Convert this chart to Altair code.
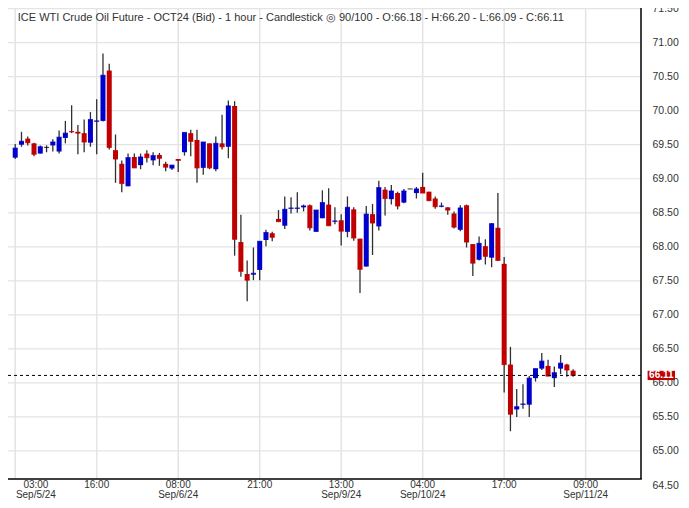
import altair as alt
import pandas as pd

# ---------------- data ----------------
bar_index = list(range(90))
opens = [69.31, 69.50, 69.59, 69.52, 69.37, 69.46, 69.49, 69.40, 69.60, 69.70,
         69.69, 69.67, 69.53, 69.84, 69.85, 70.59, 69.42, 69.22, 68.89, 69.32,
         69.20, 69.37, 69.27, 69.35, 69.22, 69.15, 69.29, 69.39, 69.67, 69.57,
         69.16, 69.52, 69.14, 69.52, 69.47, 70.07, 68.07, 67.60, 67.59, 67.66,
         68.10, 68.20, 68.41, 68.31, 68.56, 68.56, 68.58, 68.61, 68.22, 68.42,
         68.62, 68.37, 68.39, 68.22, 68.55, 68.12, 67.71, 68.48, 68.30, 68.84,
         68.70, 68.79, 68.65, 68.85, 68.79, 68.88, 68.81, 68.71, 68.59, 68.58,
         68.49, 68.25, 68.61, 68.04, 67.81, 68.01, 67.84, 68.28, 67.75, 66.27,
         65.61, 65.68, 65.68, 66.07, 66.21, 66.25, 66.07, 66.21, 66.27, 66.18]
highs = [69.51, 69.69, 69.62, 69.53, 69.49, 69.49, 69.58, 69.71, 69.85, 70.08,
         69.79, 69.87, 69.98, 70.17, 70.84, 70.69, 69.65, 69.27, 69.37, 69.37,
         69.37, 69.42, 69.39, 69.38, 69.25, 69.20, 69.29, 69.68, 69.72, 69.72,
         69.54, 69.52, 69.62, 69.94, 70.15, 70.14, 68.47, 67.80, 67.99, 68.08,
         68.25, 68.22, 68.54, 68.74, 68.73, 68.80, 68.62, 68.62, 68.54, 68.83,
         68.86, 68.58, 68.48, 68.74, 68.58, 68.12, 68.60, 68.63, 68.97, 68.88,
         68.91, 68.81, 68.85, 68.85, 68.88, 69.09, 68.81, 68.74, 68.65, 68.58,
         68.52, 68.61, 68.62, 68.04, 68.15, 68.11, 68.35, 68.79, 67.85, 66.53,
         65.91, 65.98, 66.10, 66.21, 66.44, 66.34, 66.24, 66.41, 66.28, 66.20]
lows = [69.29, 69.47, 69.49, 69.33, 69.37, 69.39, 69.40, 69.37, 69.52, 69.67,
        69.36, 69.39, 69.47, 69.36, 69.84, 69.43, 68.94, 68.80, 68.89, 69.16,
        69.14, 69.24, 69.20, 69.19, 69.11, 69.13, 69.10, 69.34, 69.33, 68.94,
        69.06, 69.14, 69.11, 69.43, 69.30, 67.87, 67.56, 67.20, 67.51, 67.51,
        68.01, 68.08, 68.37, 68.26, 68.49, 68.50, 68.52, 68.24, 68.22, 68.42,
        68.31, 68.33, 68.02, 68.14, 68.09, 67.32, 67.71, 67.88, 68.24, 68.46,
        68.62, 68.55, 68.64, 68.85, 68.71, 68.79, 68.67, 68.56, 68.58, 68.47,
        68.27, 68.23, 67.99, 67.57, 67.80, 67.74, 67.70, 67.79, 65.86, 65.29,
        65.50, 65.62, 65.50, 66.02, 66.19, 66.10, 65.94, 66.13, 66.09, 66.09]
closes = [69.45, 69.55, 69.53, 69.36, 69.47, 69.46, 69.54, 69.61, 69.67, 69.69,
          69.67, 69.54, 69.87, 69.85, 70.52, 69.46, 69.29, 68.93, 69.31, 69.16,
          69.32, 69.31, 69.34, 69.30, 69.17, 69.20, 69.27, 69.68, 69.55, 69.16,
          69.54, 69.16, 69.52, 69.47, 70.07, 68.11, 67.64, 67.51, 67.61, 68.08,
          68.21, 68.14, 68.37, 68.55, 68.57, 68.57, 68.60, 68.28, 68.54, 68.65,
          68.31, 68.38, 68.23, 68.58, 68.13, 67.67, 68.48, 68.35, 68.87, 68.71,
          68.82, 68.60, 68.82, 68.85, 68.85, 68.79, 68.68, 68.59, 68.60, 68.54,
          68.29, 68.57, 68.07, 67.76, 68.05, 67.86, 68.34, 67.80, 66.27, 65.54,
          65.65, 65.69, 66.07, 66.21, 66.32, 66.10, 66.15, 66.29, 66.19, 66.11]

x_ticks = [0, 13, 26, 39, 52, 65, 78, 91]
x_time = ["03:00", "16:00", "08:00", "21:00", "13:00", "04:00", "17:00", "09:00"]
x_date = ["Sep/5/24", "", "Sep/6/24", "", "Sep/9/24", "Sep/10/24", "", "Sep/11/24"]
y_ticks = [64.5, 65.0, 65.5, 66.0, 66.5, 67.0, 67.5, 68.0, 68.5, 69.0, 69.5, 70.0, 70.5, 71.0, 71.5]

title_main = "ICE WTI Crude Oil Future - OCT24 (Bid) - 1 hour - Candlestick"
bars_shown = "90/100"

# ---------------- layout constants ----------------
W, H = 633, 477
X_DOMAIN = [-0.353, 99.03]
Y_TOP, Y_FLOOR, Y_BOTTOM = 71.509, 64.59, 64.5
FIRST_LABEL_MIN = 3.3
FONT = "Liberation Sans"
BLUE, RED, FLAT = "#0000cc", "#c00000", "#000000"
GRID = "#e4e4e4"
TXT = "#333333"

df = pd.DataFrame({"i": bar_index, "open": opens, "high": highs,
                   "low": lows, "close": closes})
df["dir"] = ["up" if c > o else ("down" if c < o else "flat") for o, c in zip(opens, closes)]

last_o, last_h, last_l, last_c = opens[-1], highs[-1], lows[-1], closes[-1]
title_text = (f"{title_main} \u25ce {bars_shown} - O:{last_o:.2f} - H:{last_h:.2f}"
              f" - L:{last_l:.2f} - C:{last_c:.2f}")

xscale = alt.Scale(domain=X_DOMAIN, nice=False, zero=False)
yscale = alt.Scale(domain=[Y_BOTTOM, Y_TOP], nice=False, zero=False)
dir_scale = alt.Scale(domain=["up", "down", "flat"], range=[BLUE, RED, FLAT])

y_axis = alt.Axis(orient="right", values=y_ticks, format=".2f", grid=False, ticks=False,
                  domain=False, labelPadding=11, labelFontSize=10.5, labelColor=TXT,
                  labelFont=FONT, title=None, labelOverlap=False)


def Y(field):
    return alt.Y(field, scale=yscale, axis=y_axis)


def X(field):
    return alt.X(field, scale=xscale, axis=None)


# helper frames
vgrid_df = pd.DataFrame({"g": x_ticks, "top": Y_TOP, "bot": Y_FLOOR})
hgrid_df = pd.DataFrame({"g": [v for v in y_ticks if v > Y_FLOOR]})
lab_df = pd.DataFrame({"pos": [max(t, FIRST_LABEL_MIN) for t in x_ticks],
                       "time": x_time, "date": x_date})
one = pd.DataFrame({"c": [last_c], "cl": [f"{last_c:.2f}"], "t": [title_text],
                    "top": [Y_TOP], "floor": [Y_FLOOR],
                    "tag_hi": [last_c + 0.068], "tag_lo": [last_c - 0.068]})

vgrid = alt.Chart(vgrid_df).mark_rule(color=GRID, strokeWidth=1.5).encode(
    x=X("g:Q"), y=Y("top:Q"), y2="bot:Q")
hgrid = alt.Chart(hgrid_df).mark_rule(color=GRID, strokeWidth=1.2).encode(
    y=Y("g:Q"), x=alt.value(0), x2=alt.value(W))

wicks = alt.Chart(df).mark_rule(color="#303030", strokeWidth=1.3).encode(
    x=X("i:Q"), y=Y("low:Q"), y2="high:Q")

bodies = alt.Chart(df).mark_bar(size=5).encode(
    x=X("i:Q"), y=Y("open:Q"), y2="close:Q",
    color=alt.Color("dir:N", scale=dir_scale, legend=None))

caps = alt.Chart(df).mark_tick(orient="horizontal", size=5, thickness=1.2).encode(
    x=X("i:Q"), y=Y("close:Q"),
    color=alt.Color("dir:N", scale=dir_scale, legend=None))

last_line = alt.Chart(one).mark_rule(color="#000000", strokeWidth=1, strokeDash=[3, 3]).encode(
    y=Y("c:Q"), x=alt.value(0), x2=alt.value(W))

border_r = alt.Chart(one).mark_rule(color="#000000", strokeWidth=1.5).encode(
    x=alt.value(W), y=Y("top:Q"), y2="floor:Q")
border_b = alt.Chart(one).mark_rule(color="#000000", strokeWidth=1.5).encode(
    y=Y("floor:Q"), x=alt.value(0), x2=alt.value(W + 0.75))

time_labels = alt.Chart(lab_df).mark_text(color=TXT, fontSize=10, font=FONT,
                                          align="center", baseline="middle").encode(
    x=X("pos:Q"), y=alt.value(H - 0.3), text="time:N")
date_labels = alt.Chart(lab_df).mark_text(color=TXT, fontSize=10, font=FONT,
                                          align="center", baseline="middle").encode(
    x=X("pos:Q"), y=alt.value(H + 10.0), text="date:N")

tag = alt.Chart(one).mark_rect(color=RED).encode(
    x=alt.value(W + 6.6), x2=alt.value(W + 34),
    y=Y("tag_hi:Q"), y2="tag_lo:Q")
tag_text = alt.Chart(one).mark_text(color="white", fontWeight="bold", fontSize=10,
                                    font=FONT, align="center", baseline="middle").encode(
    x=alt.value(W + 20.3), y=Y("c:Q"), text="cl:N")

title = alt.Chart(one).mark_text(color=TXT, fontSize=11, font=FONT,
                                 align="left", baseline="middle").encode(
    x=alt.value(9.8), y=alt.value(9.7), text="t:N")

chart = alt.layer(vgrid, hgrid, wicks, bodies, caps, last_line, border_r, border_b,
                  time_labels, date_labels, tag, tag_text, title).properties(
    width=W, height=H,
    autosize=alt.AutoSizeParams(type="none"),
    padding={"left": 0, "top": 0, "right": 40, "bottom": 15},
    background="white",
).configure_view(strokeWidth=0)

chart.save("out.html", embed_options={"renderer": "svg", "actions": False})
